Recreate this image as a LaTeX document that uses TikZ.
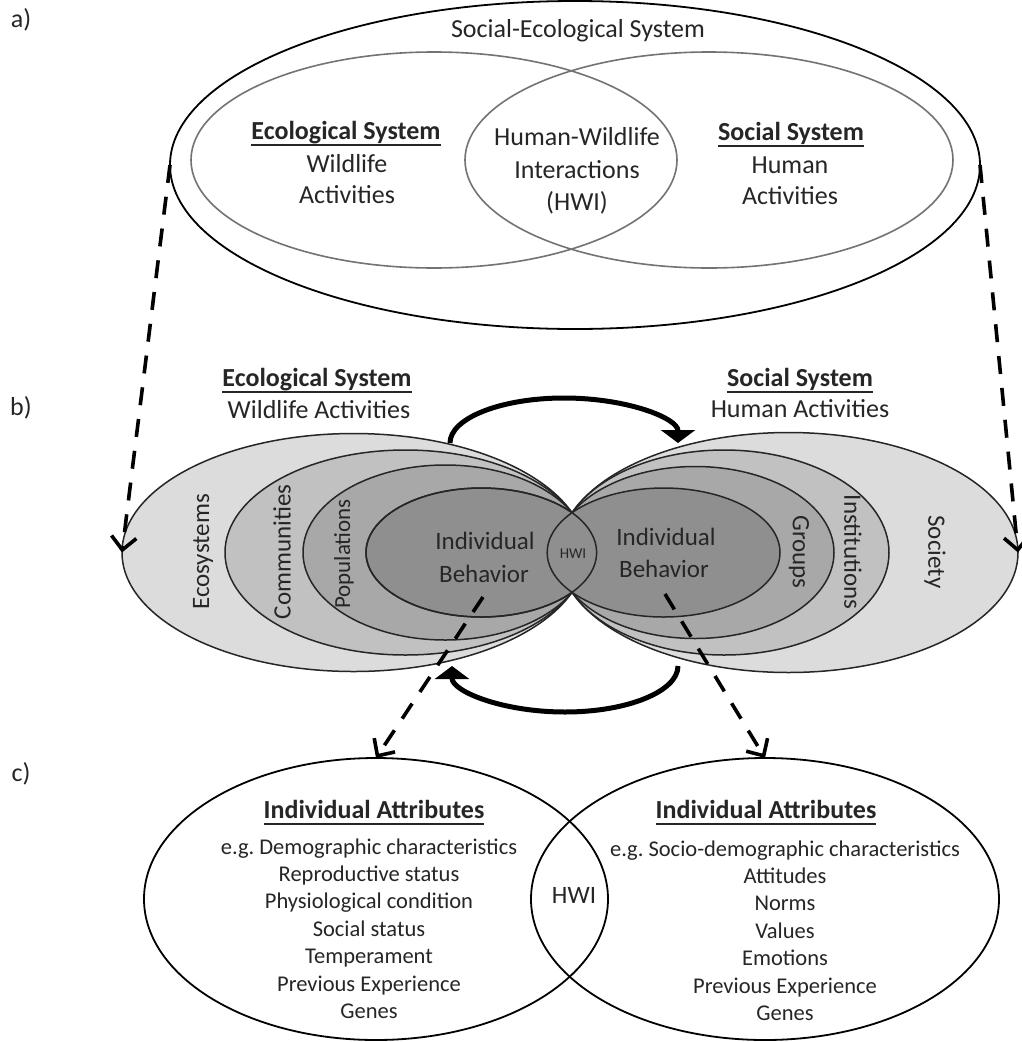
\documentclass[tikz,border=0pt]{standalone}
\usepackage{fontspec}
\setmainfont{Carlito}
\usetikzlibrary{shapes.geometric,arrows.meta}
\definecolor{lvA}{HTML}{DCDCDC}
\definecolor{lvB}{HTML}{C1C1C1}
\definecolor{lvC}{HTML}{A8A8A8}
\definecolor{lvD}{HTML}{8F8F8F}
\definecolor{ink}{HTML}{262626}
% underline placed just below the descenders
\newcommand\ulined[1]{\leavevmode\setbox0=\hbox{#1}\rlap{\copy0}\rule[-6.5pt]{\wd0}{1.8pt}}
\newcommand\fsA{\fontsize{26}{31}\selectfont}
\newcommand\fsB{\fontsize{25}{30}\selectfont}
\newcommand\fsC{\fontsize{22.5}{27}\selectfont}
\newcommand\fsD{\fontsize{15}{18}\selectfont}
\begin{document}
\begin{tikzpicture}[x=1pt,y=-1pt,
  oval/.style 2 args={ellipse, inner sep=0pt, outer sep=0pt, minimum width=#1pt, minimum height=#2pt},
  rim/.style={draw=black, line width=1.8pt},
  venn/.style={draw=black!55, line width=1.6pt},
  layer/.style={draw=ink, line width=1.5pt},
  lab/.style={anchor=base, inner sep=0pt, text=ink},
  side/.style={anchor=center, inner sep=0pt, text=ink, font=\fsB},
  dasharrow/.style={line width=3.6pt, dash pattern=on 18pt off 14pt, -{Straight Barb[length=13pt,width=25pt]}},
  swing/.style={line width=5pt, -{Triangle[length=13pt,width=34pt]}},
]
\fill[white] (0,0) rectangle (1021,1042);
\useasboundingbox (0,0) rectangle (1021,1042);

% panel letters
\node[lab, font=\fsA] (pa) at (21,27) {a)};
\node[lab, font=\fsA] (pb) at (21,415) {b)};
\node[lab, font=\fsA] (pc) at (21,781) {c)};

% ---------- a) social-ecological system ----------
\node[oval={810}{328}, rim] (ses) at (575,165) {};
\node[oval={486}{216}, venn] (ecoA) at (434,160) {};
\node[oval={488}{216}, venn] (socA) at (709,160) {};
\node[lab, font=\fsA] (sesT) at (578,37) {Social-Ecological System};
\node[lab, font=\fsA\bfseries] (ecoAT) at (346,139) {\ulined{Ecological System}};
\node[lab, font=\fsA] (ecoA1) at (347,172) {Wildlife};
\node[lab, font=\fsA] (ecoA2) at (347,203) {Activities};
\node[lab, font=\fsA] (hwiA1) at (577,145) {Human-Wildlife};
\node[lab, font=\fsA] (hwiA2) at (577,178) {Interactions};
\node[lab, font=\fsA] (hwiA3) at (577,210) {(HWI)};
\node[lab, font=\fsA\bfseries] (socAT) at (791,140) {\ulined{Social System}};
\node[lab, font=\fsA] (socA1) at (790,173) {Human};
\node[lab, font=\fsA] (socA2) at (790,204) {Activities};

% ---------- b) nested levels ----------
\node[oval={463.2}{238}, layer, fill=lvA] (eco) at (353.6,552.5) {};
\node[oval={458.8}{240}, layer, fill=lvA] (soc) at (788.6,552.5) {};
\node[oval={361}{205}, layer, fill=lvB] (com) at (405.5,552.5) {};
\node[oval={329.8}{205}, layer, fill=lvB] (inst) at (724.1,552.5) {};
\node[oval={284.6}{175}, layer, fill=lvC] (pop) at (445.3,552.5) {};
\node[oval={277.6}{172}, layer, fill=lvC] (grp) at (695.2,552.5) {};
\node[oval={230.6}{129}, layer, fill=lvD] (ibL) at (481.3,552.5) {};
\node[oval={232.8}{129}, layer, fill=lvD] (ibR) at (663.6,552.5) {};
\node[oval={230.6}{129}, layer] (ibLrim) at (481.3,552.5) {};

\node[side, rotate=90] (ecoT) at (203,552) {Ecosystems};
\node[side, rotate=90] (comT) at (282,552) {Communities};
\node[side, rotate=90, font=\fontsize{23}{27}\selectfont] (popT) at (344,554) {Populations};
\node[side, rotate=-90] (grpT) at (799,552) {Groups};
\node[side, rotate=-90] (instT) at (853,552) {Institutions};
\node[side, rotate=-90] (socT) at (935,552) {Society};
\node[lab, font=\fsB] (ibL1) at (485,549) {Individual};
\node[lab, font=\fsB] (ibL2) at (484,582) {Behavior};
\node[lab, font=\fsB] (ibR1) at (666,545) {Individual};
\node[lab, font=\fsB] (ibR2) at (664,577) {Behavior};
\node[lab, font=\fsD] (hwiB) at (573,558) {HWI};

\node[lab, font=\fsA\bfseries] (ecoBT) at (317,386) {\ulined{Ecological System}};
\node[lab, font=\fsA] (ecoBS) at (319,418) {Wildlife Activities};
\node[lab, font=\fsA\bfseries] (socBT) at (800,386) {\ulined{Social System}};
\node[lab, font=\fsA] (socBS) at (800,417) {Human Activities};

% feedback between the two systems
\coordinate (swTopL) at (450,443);
\coordinate (swBotR) at (678,666);
\draw[swing] (swTopL) arc[start angle=180, end angle=360, x radius=114, y radius=45];
\draw[swing] (swBotR) arc[start angle=0, end angle=180, x radius=113, y radius=46];

% ---------- c) individual attributes ----------
\node[oval={464}{282}, rim] (attrL) at (376,899) {};
\node[oval={468}{282}, rim] (attrR) at (765,899) {};
\node[lab, font=\fsA\bfseries] (attrLT) at (374,818) {\ulined{Individual Attributes}};
\node[lab, font=\fsA\bfseries] (attrRT) at (766,818) {\ulined{Individual Attributes}};
\foreach \t [count=\i from 0] in {e.g.\ Demographic characteristics, Reproductive status,
  Physiological condition, Social status, Temperament, Previous Experience, Genes}
  \node[lab, font=\fsC] (itL\i) at (369,{854+27.4*\i}) {\t};
\foreach \t [count=\i from 0] in {e.g.\ Socio-demographic characteristics, Attitudes,
  Norms, Values, Emotions, Previous Experience, Genes}
  \node[lab, font=\fsC] (itR\i) at (785,{856+27.4*\i}) {\t};
\node[lab, font=\fsB] (hwiC) at (574,903) {HWI};

% zoom-in connectors
\coordinate (ibLfoot) at (483,597);
\coordinate (ibRfoot) at (665,594);
\draw[dasharrow] (ses.west) -- (eco.west);
\draw[dasharrow] (ses.east) -- (soc.east);
\draw[dasharrow] (ibLfoot) -- (attrL.north);
\draw[dasharrow] (ibRfoot) -- (attrR.north);
\end{tikzpicture}
\end{document}
